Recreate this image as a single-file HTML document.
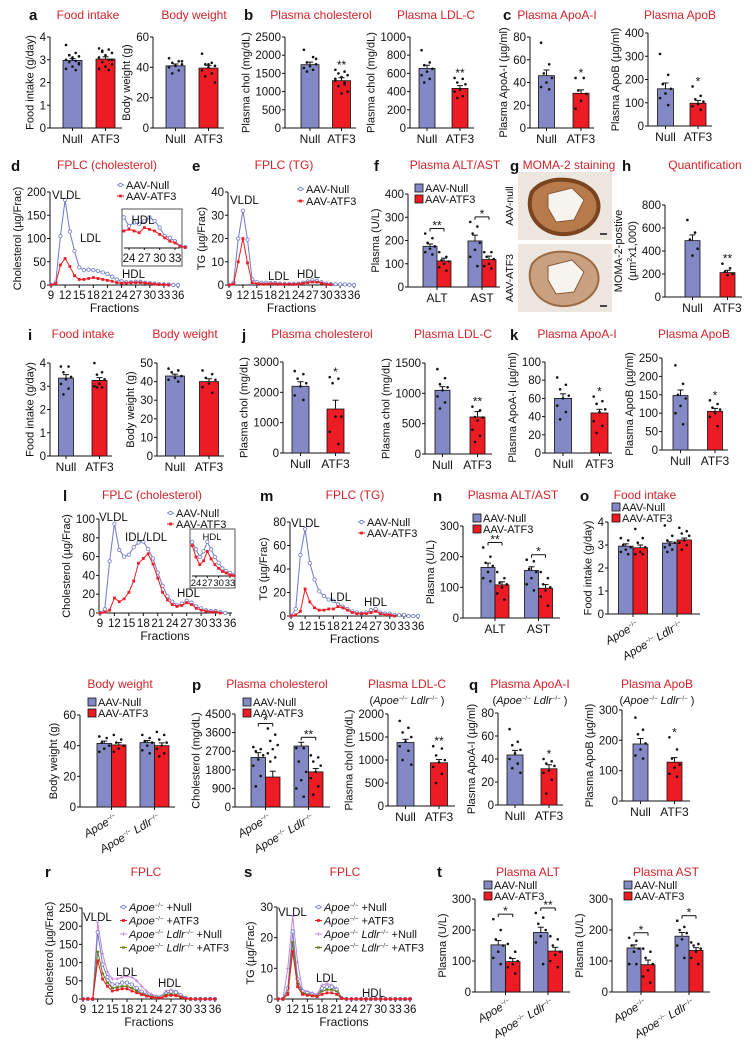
<!DOCTYPE html>
<html><head><meta charset="utf-8"><title>ATF3 figure</title>
<style>
html,body{margin:0;padding:0;background:#fff;}
svg{display:block;font-family:"Liberation Sans",Arial,sans-serif;}
</style></head>
<body>
<svg id="fig" width="755" height="1050" viewBox="0 0 755 1050"></svg>
<script>
// ---------------- DATA ----------------
const grpLabels=['Null','ATF3'];
// a
const aFoodMean=[2.97,3.03], aFoodSem=[0.08,0.1];
const aFoodNull=[3.65,3.3,3.2,3.15,3.1,3.0,2.95,2.9,2.8,2.7,2.6,2.55,3.2,2.85,3.05];
const aFoodAtf=[3.5,3.45,3.4,3.3,3.2,3.1,3.0,2.9,2.8,2.7,2.6,2.55,3.35,3.0];
const aBwMean=[41,39.5], aBwSem=[1.2,1.8];
const aBwNull=[46,44,43,42,41,40,38,36,44], aBwAtf=[49,43,42,41,40,38,36,34,30,42];
// b
const bCholMean=[1740,1300], bCholSem=[70,80];
const bCholNull=[2150,1950,1800,1750,1700,1650,1600,1550,1900];
const bCholAtf=[1600,1550,1500,1450,1400,1300,1200,1150,1000,950,1350,1250];
const bLdlMean=[655,435], bLdlSem=[35,30];
const bLdlNull=[855,720,690,650,620,580,540,500], bLdlAtf=[550,540,500,480,420,400,350,330];
// c
const cApoaMean=[46,30.5], cApoaSem=[5,3];
const cApoaNull=[75,56,48,44,40,36,34], cApoaAtf=[44,44,33,30,24,17];
const cApobMean=[160,98], cApobSem=[25,12];
const cApobNull=[310,220,180,160,140,120,90], cApobAtf=[170,130,115,105,95,85,70];
// d, e (fractions 9..36)
const fracTicks=[9,12,15,18,21,24,27,30,33,36];
const dNull=[0,5,105,183,115,73,38,32,33,32,30,27,24,18,12,8,6,6,7,7,5,4,3,2,1,1,0,0];
const dAtf=[0,3,43,57,40,20,12,12,14,16,14,12,10,8,5,4,4,5,5,5,4,3,2,1,1,0,null,null];
const dInsetNull=[9,6.5,7.5,7,8,9,8,6,3.5,3,2,0.5,0.3];
const dInsetAtf=[5,5.5,5,4.5,6,5.5,5,4,3,2,1.5,0.5,0.2];
const eNull=[0,1,20,32,19.5,2.5,1.2,1,1,0.8,0.8,0.6,0.5,0.5,0.5,0.6,1,1.5,2,1.8,1.2,0.6,0.4,0.3,0.3,0.2,0.1,0];
const eAtf=[0,0.5,10,20,9.5,1,0.5,0.4,0.4,0.5,0.5,0.4,0.3,0.3,0.3,0.4,0.7,1,1.3,1.2,0.8,0.3,0.2,null,null,null,null,null];
// f
const fNullMean=[175,198], fAtfMean=[112,118], fNullSem=[10,25], fAtfSem=[12,15];
const fDots=[[230,210,190,175,165,150,140],[150,130,115,110,100,85,70],[280,260,230,190,160,130,90],[150,150,130,120,100,90,80]];
// h
const hMean=[490,212], hSem=[50,20];
const hNull=[670,560,500,420,360], hAtf=[290,250,220,200,190];
// i
const iFoodMean=[3.35,3.25], iFoodSem=[0.15,0.12];
const iFoodNull=[3.85,3.85,3.6,3.4,3.3,3.1,2.9,2.65], iFoodAtf=[4.0,3.6,3.5,3.3,3.1,3.0,2.95,2.95];
const iBwMean=[43,40], iBwSem=[1,1.5];
const iBwNull=[47,46,45,43,42,41,40], iBwAtf=[46,44,42,41,39,37,34];
// j
const jCholMean=[2200,1450], jCholSem=[150,290];
const jCholNull=[2700,2600,2450,2300,2200,1900,1750], jCholAtf=[2500,2450,2300,1200,1200,700,300];
const jLdlMean=[1050,610], jLdlSem=[60,90];
const jLdlNull=[1400,1250,1150,1100,1050,950,850,750], jLdlAtf=[780,720,610,600,550,400,300,200];
// k
const kApoaMean=[60,44], kApoaSem=[5,4];
const kApoaNull=[83,75,70,63,60,52,45,37], kApoaAtf=[62,57,54,48,45,35,30,22];
const kApobMean=[148,105], kApobSem=[15,8];
const kApobNull=[230,180,150,140,120,100,70], kApobAtf=[135,125,115,110,100,90,65];
// l, m
const lNull=[0,4,55,95,67,60,62,70,75,76,68,58,43,29,18,12,8,10,13,11,7,5,3,2,2,1,0,null];
const lAtf=[0,1,3,16,12,15,22,34,53,58,63,52,37,22,14,9,7,8,11,9,5,3,2,1,1,0,null,null];
const lInsetNull=[9,7,5,6.5,9,7,5,3.5,2,1.3,0.8,0.3];
const lInsetAtf=[8,5,3,4,6.5,4.5,3,2,1.2,0.8,0.3,0.1];
const mNull=[0,6,52,74,45,31,21,17,14,13,10,8,6,4,3,2,3,5,6,3,2,2,1,1,1,0,0,0];
const mAtf=[0,1,4,23,12,7,5,5,6,6,8,7,5,3,2,2,2,3,4,2,1,1,0,null,null,null,null,null];
// n
const nNullMean=[165,155], nAtfMean=[108,97], nNullSem=[14,12], nAtfSem=[10,12];
const nDots=[[230,200,180,170,150,130,120],[150,130,115,110,100,80,60],[190,185,160,150,130,110,90],[150,130,110,100,90,70,40]];
// o
const oFoodNullMean=[2.95,3.08], oFoodAtfMean=[2.88,3.22], oFoodNullSem=[0.1,0.06], oFoodAtfSem=[0.12,0.08];
const oFoodDots=[[3.3,3.2,3.0,2.9,2.8,2.7,2.6],[3.7,3.3,3.1,2.9,2.7,2.6,2.6],[3.85,3.4,3.2,3.1,3.0,2.9,2.8,2.7],[3.75,3.6,3.5,3.4,3.2,3.1,3.0,2.8]];
const oBwNullMean=[41.5,42], oBwAtfMean=[40.5,40], oBwNullSem=[1.5,1.3], oBwAtfSem=[1.5,1.8];
const oBwDots=[[46,45,42,40,38,36],[47,44,42,40,38,36],[47,45,43,42,40,37,35],[49,47,44,42,40,38,35,33]];
// p
const pCholNullMean=[2400,2950], pCholAtfMean=[1450,1700], pCholNullSem=[230,180], pCholAtfSem=[280,160];
const pCholDots=[[2900,2800,2700,2500,2300,2000,1500,1000],[3800,3500,3200,3000,2800,2600,2400,2200],[2850,2850,2200,1700,1300,900,500],[2500,2400,2200,2000,1700,1400,1000,600]];
const pLdlMean=[1380,940], pLdlSem=[70,70];
const pLdlNull=[1850,1700,1600,1500,1400,1300,1200,1000,900], pLdlAtf=[1300,1250,1100,1000,950,850,700,500];
// q
const qApoaMean=[43.5,31.5], qApoaSem=[4,3.5];
const qApoaNull=[66,55,52,48,45,40,36,32,28], qApoaAtf=[40,38,36,34,30,28,22,10];
const qApobMean=[188,128], qApobSem=[18,15];
const qApobNull=[275,235,220,190,170,150,140], qApobAtf=[210,170,140,120,110,90,80];
// r, s
const rNull=[0,0,0,183,95,60,40,40,45,45,40,30,20,12,8,5,5,15,20,18,10,3,0,0,0,0,0,0];
const rAtf=[0,0,0,105,55,35,22,25,28,28,22,17,12,8,5,3,3,8,10,9,5,1,0,0,0,0,0,0];
const rDkoNull=[0,0,0,210,125,75,55,55,60,62,60,50,35,22,13,8,8,22,25,22,12,4,0,0,0,0,0,0];
const rDkoAtf=[0,0,0,130,70,45,30,32,35,35,30,22,15,10,7,4,4,12,14,12,7,2,0,0,0,0,0,0];
const sNull=[0,0,3.5,22,6.5,2.5,2,1.5,1,3.5,4,4,3,0.3,0,0,0,0,0,0,0,0,0,0,0,0,0,0];
const sAtf=[0,0,1.5,15.5,4,1.5,1.2,1,0.8,1.5,2,2,1.5,0.2,0,0,0,0,0,0,0,0,0,0,0,0,0,0];
const sDkoNull=[0,0,10,27,12,3,2.5,2,1.5,4.5,5,4.5,3.5,0.5,0,0,0,0,0,0,0,0,0,0,0,0,0,0];
const sDkoAtf=[0,0,2,18.5,5,2,1.5,1.2,1,2.5,3,3,2.5,0.3,0,0,0,0,0,0,0,0,0,0,0,0,0,0];
// t
const tAltNullMean=[152,192], tAltAtfMean=[98,132], tAltNullSem=[14,17], tAltAtfSem=[10,12];
const tAltDots=[[235,200,170,150,130,110,90],[155,130,110,100,90,80,60],[255,240,220,200,180,160,90],[180,170,150,130,120,100,80]];
const tAstNullMean=[142,180], tAstAtfMean=[88,134], tAstNullSem=[10,12], tAstAtfSem=[15,9];
const tAstDots=[[175,165,150,140,130,90,90],[140,130,110,90,70,50,30],[230,210,200,190,170,150,110],[160,155,150,140,130,110,90]];

// ---------------- DRAWING ----------------
const NS='http://www.w3.org/2000/svg';
const svg=document.getElementById('fig');
const BLUE='#8389c4', RED='#ed1c24', LBLUE='#6f78c9', TRED='#d2232a';
function el(tag,attrs,name,parent){
  const e=document.createElementNS(NS,tag);
  for(const k in attrs) e.setAttribute(k,attrs[k]);
  
  
  (parent||svg).appendChild(e);
  return e;
}
function tx(x,y,s,name,o){
  o=o||{};
  const a={x:x,y:y,'font-size':o.fs||11,'text-anchor':o.anchor||'middle',fill:o.fill||'#111'};
  if(o.fw) a['font-weight']=o.fw;
  if(o.rot) a.transform='rotate('+o.rot+' '+x+' '+y+')';
  if(o.it) a['font-style']='italic';
  const e=el('text',a,name);
  if(o.html) e.innerHTML=s; else e.textContent=s;
  return e;
}
function line(x1,y1,x2,y2,name,c,w){return el('line',{x1,y1,x2,y2,stroke:c||'#111','stroke-width':w||1},name);}
function yAxis(ax,y0,yt,max,ticks,name,fmt){
  line(ax,y0,ax,yt,name+'-y-axis');
  ticks.forEach(t=>{
    const y=y0-(t/max)*(y0-yt);
    line(ax-3,y,ax,y,name+'-y-tick');
    tx(ax-4,y+4,fmt?fmt(t):String(t),name+'-y-tick-label',{anchor:'end',fs:11.5});
  });
}
function ylab(x,y,s,name,html){tx(x,y,s,name+'-y-axis-title',{rot:-90,fs:11,html:html});}
function range(max,step){const a=[];for(let v=0;v<=max+1e-9;v+=step)a.push(+v.toFixed(4));return a;}
function dots(cx,bw,vals,sc,name){
  vals.forEach((v,i)=>{
    const dx=(((i*3)%5)-2)*bw*0.17;
    el('circle',{cx:cx+dx,cy:sc(v),r:1.3,fill:'#111'},name+'-dot');
  });
}
function bar(cx,bw,v,sem,sc,y0,color,name){
  const y=sc(v);
  el('rect',{x:cx-bw/2,y:y,width:bw,height:y0-y,fill:color,stroke:'#111','stroke-width':0.8},name);
  const ye=sc(v+sem);
  line(cx,y,cx,ye,name+'-error-bar');
  line(cx-3,ye,cx+3,ye,name+'-error-cap');
}
function simple(P){
  const sc=v=>P.y0-(v/P.max)*(P.y0-P.yt);
  yAxis(P.ax,P.y0,P.yt,P.max,P.ticks,P.name);
  line(P.ax,P.y0,P.xe,P.y0,P.name+'-x-axis');
  const colors=[BLUE,RED];
  for(let i=0;i<2;i++){
    const cx=P.c0+i*P.step;
    bar(cx,P.bw,P.mean[i],P.sem[i],sc,P.y0,colors[i],P.name+'-bar-'+grpLabels[i].toLowerCase());
    dots(cx,P.bw,P.dots[i],sc,P.name);
    line(cx,P.y0,cx,P.y0+3,P.name+'-x-tick');
    tx(cx,P.y0+15,grpLabels[i],P.name+'-x-label',{fs:12});
  }
  if(P.sig){
    const cx=P.c0+P.step;
    const top=Math.min(sc(Math.max(...P.dots[1])),sc(P.mean[1]+P.sem[1]));
    tx(cx,top-1,P.sig,P.name+'-significance',{fs:12});
  }
  const w=String(P.ticks[P.ticks.length-1]).length*6.4+10;
  ylab(P.ax-w-(P.ylOff||0),(P.y0+P.yt)/2,P.ylabel,P.name,P.ylHtml);
}
const SUP='<tspan font-size="6" dy="-4">−/−</tspan><tspan dy="4"> </tspan>';
function legendBars(x,y,name){
  el('rect',{x:x,y:y-8,width:8,height:8,fill:BLUE,stroke:'#111','stroke-width':0.8},name+'-swatch-null');
  tx(x+10,y,'AAV-Null',name+'-entry-null',{anchor:'start',fs:11});
  el('rect',{x:x,y:y+3,width:8,height:8,fill:RED,stroke:'#111','stroke-width':0.8},name+'-swatch-atf3');
  tx(x+10,y+11,'AAV-ATF3',name+'-entry-atf3',{anchor:'start',fs:11});
}
function grouped(P){
  const sc=v=>P.y0-(v/P.max)*(P.y0-P.yt);
  yAxis(P.ax,P.y0,P.yt,P.max,P.ticks,P.name);
  line(P.ax,P.y0,P.xe,P.y0,P.name+'-x-axis');
  for(let g=0;g<2;g++){
    const gc=P.g0+g*P.gstep;
    const cn=gc-P.bw/2, ca=gc+P.bw/2;
    bar(cn,P.bw,P.nMean[g],P.nSem[g],sc,P.y0,BLUE,P.name+'-bar-null-'+g);
    bar(ca,P.bw,P.aMean[g],P.aSem[g],sc,P.y0,RED,P.name+'-bar-atf3-'+g);
    dots(cn,P.bw,P.dots[2*g],sc,P.name);
    dots(ca,P.bw,P.dots[2*g+1],sc,P.name);
    line(gc,P.y0,gc,P.y0+3,P.name+'-x-tick');
    if(P.xl){ tx(gc,P.y0+15,P.xl[g],P.name+'-x-label',{fs:12}); }
    else {
      const s=g===0?'<tspan font-style="italic">Apoe</tspan>'+SUP:'<tspan font-style="italic">Apoe</tspan>'+SUP+'<tspan font-style="italic">Ldlr</tspan>'+SUP;
      tx(gc+6,P.y0+13,s,P.name+'-x-label',{anchor:'end',rot:-30,fs:11.5,html:true});
    }
    if(P.br && P.br[g]){
      const top=Math.min(sc(Math.max(...P.dots[2*g],...P.dots[2*g+1])),sc(P.nMean[g]+P.nSem[g]))-5;
      line(cn,top,ca,top,P.name+'-bracket');
      line(cn,top,cn,top+3,P.name+'-bracket');
      line(ca,top,ca,top+3,P.name+'-bracket');
      tx(gc,top+1,P.br[g],P.name+'-significance',{fs:12});
    }
  }
  const w=String(P.ticks[P.ticks.length-1]).length*6.4+10;
  ylab(P.ax-w,(P.y0+P.yt)/2,P.ylabel,P.name,P.ylHtml);
}
function marker(x,y,type,color,name){
  if(type==='o') el('circle',{cx:x,cy:y,r:1.7,fill:'#fff',stroke:color,'stroke-width':0.8},name);
  else if(type==='s') el('rect',{x:x-1.4,y:y-1.4,width:2.8,height:2.8,fill:color},name);
  else if(type==='+'){line(x-1.8,y,x+1.8,y,name,color,0.8);line(x,y-1.8,x,y+1.8,name,color,0.8);}
  else el('rect',{x:x-1.6,y:y-1,width:3.2,height:2,fill:color},name);
}
function series(vals,start,xs,ys,color,mk,name){
  let d='';
  vals.forEach((v,i)=>{ if(v===null) return; const X=xs(start+i),Y=ys(v); d+=(d?'L':'M')+X.toFixed(1)+' '+Y.toFixed(1);});
  el('path',{d:d,fill:'none',stroke:color,'stroke-width':1},name+'-line');
  vals.forEach((v,i)=>{ if(v===null) return; marker(xs(start+i),ys(v),mk,color,name+'-point');});
}
function fplc(P){
  const xs=f=>P.x9+(f-9)*(P.x36-P.x9)/27;
  const ys=v=>P.y0-(v/P.max)*(P.y0-P.yt);
  yAxis(P.ax,P.y0,P.yt,P.max,P.ticks,P.name);
  line(P.ax,P.y0,P.x36+2,P.y0,P.name+'-x-axis');
  fracTicks.forEach(f=>{
    line(xs(f),P.y0,xs(f),P.y0+3,P.name+'-x-tick');
    tx(xs(f),P.y0+14,String(f),P.name+'-x-tick-label',{fs:11.5});
  });
  tx((P.x9+P.x36)/2,P.y0+27,'Fractions',P.name+'-x-axis-title',{fs:12});
  P.series.forEach(s=>series(s.v,9,xs,ys,s.c,s.m,P.name+'-'+s.n));
  const w=String(P.ticks[P.ticks.length-1]).length*6.4+10;
  ylab(P.ax-w,(P.y0+P.yt)/2,P.ylabel,P.name,true);
  (P.ann||[]).forEach(a=>tx(a[0],a[1],a[2],P.name+'-annotation-'+a[2].toLowerCase().replace('/','-'),{anchor:'start',fs:11.5}));
}
function inset(P){
  el('rect',{x:P.bx,y:P.by,width:P.bw,height:P.bh,fill:'#fff',stroke:'#555','stroke-width':1},P.name+'-box');
  const xs=f=>P.x24+(f-24)*(P.x33-P.x24)/9;
  const ys=v=>P.y0-(v/10)*(P.y0-P.yt);
  line(P.bx+2,P.y0,P.bx+P.bw-2,P.y0,P.name+'-axis');
  [24,27,30,33].forEach(f=>{line(xs(f),P.y0,xs(f),P.y0+2,P.name+'-tick');tx(xs(f),P.y0+P.lo,String(f),P.name+'-tick-label',{fs:P.fs});});
  series(P.n,23,xs,ys,LBLUE,'o',P.name+'-null');
  series(P.a,23,xs,ys,RED,'s',P.name+'-atf3');
  tx(P.hx,P.hy,'HDL',P.name+'-hdl-label',{fs:P.fs});
}
function lineLegend(x,y,dy,items,name){
  items.forEach((it,i)=>{
    const yy=y+i*dy;
    line(x,yy-4,x+7,yy-4,name+'-swatch',it.c,1);
    marker(x+3.5,yy-4,it.m,it.c,name+'-swatch-marker');
    tx(x+9,yy,it.t,name+'-entry',{anchor:'start',fs:11,html:true});
  });
}
function title(x,y,s,name,extra){tx(x,y,s,name,Object.assign({fill:TRED,fs:12},extra||{}));}
function letter(x,y,s){tx(x,y,s,'panel-label-'+s,{fs:15,fw:'bold',anchor:'start'});}

// ===== Row 1 =====
letter(29,20,'a'); title(88,19,'Food intake','title-a-food-intake'); title(194,19,'Body weight','title-a-body-weight');
letter(244,20,'b'); title(321,19,'Plasma cholesterol','title-b-plasma-cholesterol'); title(436,19,'Plasma LDL-C','title-b-plasma-ldl');
letter(503,20,'c'); title(557,19,'Plasma ApoA-I','title-c-apoa'); title(680,19,'Plasma ApoB','title-c-apob');
simple({name:'a-food',ax:50,y0:128,yt:37,max:4,ticks:range(4,1),xe:122,c0:72.5,step:33,bw:19,mean:aFoodMean,sem:aFoodSem,dots:[aFoodNull,aFoodAtf],ylabel:'Food intake (g/day)'});
simple({name:'a-bw',ax:153,y0:128,yt:37,max:60,ticks:range(60,20),xe:224,c0:175.5,step:33,bw:19,mean:aBwMean,sem:aBwSem,dots:[aBwNull,aBwAtf],ylabel:'Body weight (g)'});
simple({name:'b-chol',ax:285,y0:128,yt:37,max:2500,ticks:range(2500,500),xe:356,c0:310,step:31.5,bw:18,mean:bCholMean,sem:bCholSem,dots:[bCholNull,bCholAtf],ylabel:'Plasma chol (mg/dL)',sig:'**'});
simple({name:'b-ldl',ax:410,y0:128,yt:37,max:1000,ticks:range(1000,200),xe:474,c0:427,step:33,bw:16,mean:bLdlMean,sem:bLdlSem,dots:[bLdlNull,bLdlAtf],ylabel:'Plasma chol (mg/dL)',sig:'**'});
simple({name:'c-apoa',ax:530,y0:128,yt:37,max:80,ticks:range(80,20),xe:594,c0:546.5,step:34.5,bw:16,mean:cApoaMean,sem:cApoaSem,dots:[cApoaNull,cApoaAtf],ylabel:'Plasma ApoA-I (µg/ml)',sig:'*'});
simple({name:'c-apob',ax:648,y0:126,yt:33,max:400,ticks:range(400,100),xe:712,c0:665.5,step:32.5,bw:16,mean:cApobMean,sem:cApobSem,dots:[cApobNull,cApobAtf],ylabel:'Plasma ApoB (µg/ml)',sig:'*'});

// ===== Row 2 =====
letter(11,171,'d'); title(107,169,'FPLC (cholesterol)','title-d-fplc-chol');
letter(192,171,'e'); title(284,169,'FPLC (TG)','title-e-fplc-tg');
letter(374,171,'f'); title(455,169,'Plasma ALT/AST','title-f-alt-ast');
letter(510,171,'g'); title(569,169,'MOMA-2 staining','title-g-moma');
letter(622,171,'h'); title(705,169,'Quantification','title-h-quantification');
fplc({name:'d-fplc',ax:50,x9:51,x36:178,y0:285,yt:192,max:200,ticks:range(200,50),ylabel:'Cholesterol (µg/Frac)',
  series:[{v:dNull,c:LBLUE,m:'o',n:'null'},{v:dAtf,c:RED,m:'s',n:'atf3'}],ann:[[52,199,'VLDL'],[80,242,'LDL'],[122,278,'HDL']]});
lineLegend(117,189,11,[{c:LBLUE,m:'o',t:'AAV-Null'},{c:RED,m:'s',t:'AAV-ATF3'}],'d-legend');
inset({name:'d-inset',bx:122,by:209,bw:60,bh:57,x24:129,x33:175,y0:248,yt:214,n:dInsetNull,a:dInsetAtf,hx:143,hy:224,lo:14,fs:11.5});
fplc({name:'e-fplc',ax:228,x9:229,x36:354,y0:285,yt:192,max:40,ticks:range(40,10),ylabel:'TG (µg/Frac)',
  series:[{v:eNull,c:LBLUE,m:'o',n:'null'},{v:eAtf,c:RED,m:'s',n:'atf3'}],ann:[[230,204,'VLDL'],[268,280,'LDL'],[297,278,'HDL']]});
lineLegend(297,193,12,[{c:LBLUE,m:'o',t:'AAV-Null'},{c:RED,m:'s',t:'AAV-ATF3'}],'e-legend');
grouped({name:'f-alt-ast',ax:408,y0:287,yt:194,max:400,ticks:range(400,100),xe:500,g0:437,gstep:45,bw:14,
  nMean:fNullMean,aMean:fAtfMean,nSem:fNullSem,aSem:fAtfSem,dots:fDots,xl:['ALT','AST'],br:['**','*'],ylabel:'Plasma (U/L)'});
legendBars(415,192,'f-legend');
// g images
function stain(y,name,heavy){
  el('rect',{x:518,y:y,width:94,height:68,fill:'#ede6de'},name+'-image');
  el('path',{d:`M${532} ${y+20} C${545} ${y+2} ${585} ${y+4} ${596} ${y+24} C${606} ${y+44} ${585} ${y+64} ${560} ${y+62} C${538} ${y+60} ${524} ${y+40} ${532} ${y+20} Z`,fill:heavy?'#b77a4a':'#c9a080',stroke:heavy?'#7a4420':'#9a6a45','stroke-width':heavy?4:2},name+'-lesion');
  el('path',{d:`M${548} ${y+22} L${572} ${y+16} L${584} ${y+28} L${574} ${y+48} L${556} ${y+50} L${548} ${y+36} Z`,fill:'#f7f3ee',stroke:'#8a5a35','stroke-width':1},name+'-lumen');
  line(600,y+62,607,y+62,name+'-scale-bar','#111',1.5);
}
stain(172,'g-null',true); stain(244,'g-atf3',false);
tx(513,206,'AAV-null','g-label-null',{rot:-90,fs:10.5});
tx(513,278,'AAV-ATF3','g-label-atf3',{rot:-90,fs:10.5});
simple({name:'h-moma',ax:665,y0:297,yt:205,max:800,ticks:range(800,200),xe:742,c0:692.5,step:35,bw:15,mean:hMean,sem:hSem,dots:[hNull,hAtf],ylabel:'(µm<tspan font-size="7" dy="-4">2</tspan><tspan dy="4">x1,000)</tspan>',ylHtml:true,sig:'**'});
ylab(622,251,'MOMA-2-postive','h-moma-line1');

// ===== Row 3 =====
letter(28,340,'i'); title(83,338,'Food intake','title-i-food'); title(185,338,'Body weight','title-i-bw');
letter(242,340,'j'); title(322,338,'Plasma cholesterol','title-j-chol'); title(453,338,'Plasma LDL-C','title-j-ldl');
letter(510,340,'k'); title(577,338,'Plasma ApoA-I','title-k-apoa'); title(694,338,'Plasma ApoB','title-k-apob');
simple({name:'i-food',ax:50,y0:456,yt:363,max:4,ticks:range(4,1),xe:112,c0:66,step:33.5,bw:15,mean:iFoodMean,sem:iFoodSem,dots:[iFoodNull,iFoodAtf],ylabel:'Food intake (g/day)'});
simple({name:'i-bw',ax:157,y0:456,yt:363,max:50,ticks:range(50,10),xe:224,c0:175,step:34,bw:19,mean:iBwMean,sem:iBwSem,dots:[iBwNull,iBwAtf],ylabel:'Body weight (g)'});
simple({name:'j-chol',ax:283,y0:453,yt:362,max:3000,ticks:range(3000,1000),xe:350,c0:300.5,step:35,bw:17,mean:jCholMean,sem:jCholSem,dots:[jCholNull,jCholAtf],ylabel:'Plasma chol (mg/dL)',sig:'*'});
simple({name:'j-ldl',ax:425,y0:454,yt:363,max:1500,ticks:range(1500,500),xe:492,c0:442.5,step:35,bw:15,mean:jLdlMean,sem:jLdlSem,dots:[jLdlNull,jLdlAtf],ylabel:'Plasma chol (mg/dL)',sig:'**'});
simple({name:'k-apoa',ax:545,y0:453,yt:362,max:100,ticks:range(100,20),xe:612,c0:563,step:36.5,bw:17,mean:kApoaMean,sem:kApoaSem,dots:[kApoaNull,kApoaAtf],ylabel:'Plasma ApoA-I (µg/ml)',sig:'*'});
simple({name:'k-apob',ax:662,y0:450,yt:358,max:250,ticks:range(250,50),xe:728,c0:680.5,step:34.5,bw:15,mean:kApobMean,sem:kApobSem,dots:[kApobNull,kApobAtf],ylabel:'Plasma ApoB (µg/ml)',sig:'*'});

// ===== Row 4 =====
letter(63,501,'l'); title(152,499,'FPLC (cholesterol)','title-l-fplc-chol');
letter(260,501,'m'); title(355,499,'FPLC (TG)','title-m-fplc-tg');
letter(433,501,'n'); title(513,499,'Plasma ALT/AST','title-n-alt-ast');
letter(580,501,'o'); title(645,499,'Food intake','title-o-food');
fplc({name:'l-fplc',ax:99,x9:100,x36:230,y0:613,yt:519,max:100,ticks:range(100,20),ylabel:'Cholesterol (µg/Frac)',
  series:[{v:lNull,c:LBLUE,m:'o',n:'null'},{v:lAtf,c:RED,m:'s',n:'atf3'}],ann:[[99,521,'VLDL'],[125,541,'IDL/LDL'],[177,597,'HDL']]});
lineLegend(167,517,11,[{c:LBLUE,m:'o',t:'AAV-Null'},{c:RED,m:'s',t:'AAV-ATF3'}],'l-legend');
inset({name:'l-inset',bx:190,by:529,bw:45,bh:59,x24:196,x33:230,y0:576,yt:538,n:lInsetNull,a:lInsetAtf,hx:212,hy:540,lo:10,fs:9.5});
fplc({name:'m-fplc',ax:290,x9:291,x36:418,y0:616,yt:522,max:80,ticks:range(80,20),ylabel:'TG (µg/Frac)',
  series:[{v:mNull,c:LBLUE,m:'o',n:'null'},{v:mAtf,c:RED,m:'s',n:'atf3'}],ann:[[291,527,'VLDL'],[330,601,'LDL'],[364,606,'HDL']]});
lineLegend(358,526,11,[{c:LBLUE,m:'o',t:'AAV-Null'},{c:RED,m:'s',t:'AAV-ATF3'}],'m-legend');
grouped({name:'n-alt-ast',ax:463,y0:618,yt:526,max:300,ticks:range(300,100),xe:560,g0:495,gstep:43.5,bw:14,
  nMean:nNullMean,aMean:nAtfMean,nSem:nNullSem,aSem:nAtfSem,dots:nDots,xl:['ALT','AST'],br:['**','*'],ylabel:'Plasma (U/L)'});
legendBars(473,522,'n-legend');
grouped({name:'o-food',ax:608,y0:614,yt:522,max:4,ticks:range(4,1),xe:700,g0:633,gstep:44,bw:14.5,
  nMean:oFoodNullMean,aMean:oFoodAtfMean,nSem:oFoodNullSem,aSem:oFoodAtfSem,dots:oFoodDots,ylabel:'Food intake (g/day)'});
legendBars(612,511,'o-legend');

// ===== Row 5 =====
title(120,688,'Body weight','title-o-bw');
letter(192,690,'p'); title(277,688,'Plasma cholesterol','title-p-chol');
title(407,688,'Plasma LDL-C','title-p-ldl');
tx(407,704,'(<tspan font-style="italic">Apoe</tspan>'+SUP+'<tspan font-style="italic">Ldlr</tspan>'+SUP+')','subtitle-p-ldl',{fs:11,html:true});
letter(469,690,'q'); title(530,688,'Plasma ApoA-I','title-q-apoa');
tx(530,704,'(<tspan font-style="italic">Apoe</tspan>'+SUP+'<tspan font-style="italic">Ldlr</tspan>'+SUP+')','subtitle-q-apoa',{fs:11,html:true});
title(657,688,'Plasma ApoB','title-q-apob');
tx(657,704,'(<tspan font-style="italic">Apoe</tspan>'+SUP+'<tspan font-style="italic">Ldlr</tspan>'+SUP+')','subtitle-q-apob',{fs:11,html:true});
grouped({name:'o-bw',ax:80,y0:807,yt:715,max:60,ticks:range(60,20),xe:175,g0:111.5,gstep:43,bw:14.5,
  nMean:oBwNullMean,aMean:oBwAtfMean,nSem:oBwNullSem,aSem:oBwAtfSem,dots:oBwDots,ylabel:'Body weight (g)'});
legendBars(88,706,'o-bw-legend');
grouped({name:'p-chol',ax:235,y0:807,yt:714,max:4500,ticks:range(4500,900),xe:330,g0:265.5,gstep:43,bw:14.5,
  nMean:pCholNullMean,aMean:pCholAtfMean,nSem:pCholNullSem,aSem:pCholAtfSem,dots:pCholDots,br:['*','**'],ylabel:'Cholesterol (mg/dL)'});
legendBars(243,706,'p-legend');
simple({name:'p-ldl',ax:388,y0:806,yt:714,max:2000,ticks:range(2000,500),xe:455,c0:405.5,step:33.5,bw:17,mean:pLdlMean,sem:pLdlSem,dots:[pLdlNull,pLdlAtf],ylabel:'Plasma chol (mg/dL)',sig:'**'});
simple({name:'q-apoa',ax:498,y0:805,yt:713,max:80,ticks:range(80,20),xe:563,c0:515,step:34,bw:16,mean:qApoaMean,sem:qApoaSem,dots:[qApoaNull,qApoaAtf],ylabel:'Plasma ApoA-I (µg/ml)',sig:'*'});
simple({name:'q-apob',ax:622,y0:801,yt:710,max:300,ticks:range(300,100),xe:690,c0:640.5,step:34,bw:15,mean:qApobMean,sem:qApobSem,dots:[qApobNull,qApobAtf],ylabel:'Plasma ApoB (µg/ml)',sig:'*'});

// ===== Row 6 =====
letter(45,877,'r'); title(146,876,'FPLC','title-r-fplc');
letter(244,877,'s'); title(345,876,'FPLC','title-s-fplc');
letter(437,877,'t'); title(528,876,'Plasma ALT','title-t-alt'); title(666,876,'Plasma AST','title-t-ast');
const VIOLET='#c586d6', OLIVE='#667a1e';
const legItems=[
  {c:LBLUE,m:'o',t:'<tspan font-style="italic">Apoe</tspan>'+SUP+'+Null'},
  {c:RED,m:'s',t:'<tspan font-style="italic">Apoe</tspan>'+SUP+'+ATF3'},
  {c:VIOLET,m:'+',t:'<tspan font-style="italic">Apoe</tspan>'+SUP+'<tspan font-style="italic">Ldlr</tspan>'+SUP+'+Null'},
  {c:OLIVE,m:'-',t:'<tspan font-style="italic">Apoe</tspan>'+SUP+'<tspan font-style="italic">Ldlr</tspan>'+SUP+'+ATF3'}];
fplc({name:'r-fplc',ax:82,x9:83,x36:215,y0:999,yt:908,max:250,ticks:range(250,50),ylabel:'Cholesterol (µg/Frac)',
  series:[{v:rDkoNull,c:VIOLET,m:'+',n:'dko-null'},{v:rNull,c:LBLUE,m:'o',n:'apoe-null'},{v:rDkoAtf,c:OLIVE,m:'-',n:'dko-atf3'},{v:rAtf,c:RED,m:'s',n:'apoe-atf3'}],
  ann:[[83,921,'VLDL'],[116,976,'LDL'],[158,987,'HDL']]});
lineLegend(120,911,13.5,legItems,'r-legend');
fplc({name:'s-fplc',ax:277,x9:278,x36:410,y0:999,yt:907,max:30,ticks:range(30,10),ylabel:'TG (µg/Frac)',
  series:[{v:sDkoNull,c:VIOLET,m:'+',n:'dko-null'},{v:sNull,c:LBLUE,m:'o',n:'apoe-null'},{v:sDkoAtf,c:OLIVE,m:'-',n:'dko-atf3'},{v:sAtf,c:RED,m:'s',n:'apoe-atf3'}],
  ann:[[278,916,'VLDL'],[316,982,'LDL'],[362,997,'HDL']]});
lineLegend(315,911,13.5,legItems,'s-legend');
grouped({name:'t-alt',ax:475,y0:992,yt:899,max:300,ticks:range(300,100),xe:570,g0:505.5,gstep:42.5,bw:14.5,
  nMean:tAltNullMean,aMean:tAltAtfMean,nSem:tAltNullSem,aSem:tAltAtfSem,dots:tAltDots,br:['*','**'],ylabel:'Plasma (U/L)'});
legendBars(484,889,'t-alt-legend');
grouped({name:'t-ast',ax:612,y0:992,yt:899,max:300,ticks:range(300,100),xe:710,g0:641,gstep:48,bw:14,
  nMean:tAstNullMean,aMean:tAstAtfMean,nSem:tAstNullSem,aSem:tAstAtfSem,dots:tAstDots,br:['*','*'],ylabel:'Plasma (U/L)'});
legendBars(624,889,'t-ast-legend');
</script>
</body></html>
